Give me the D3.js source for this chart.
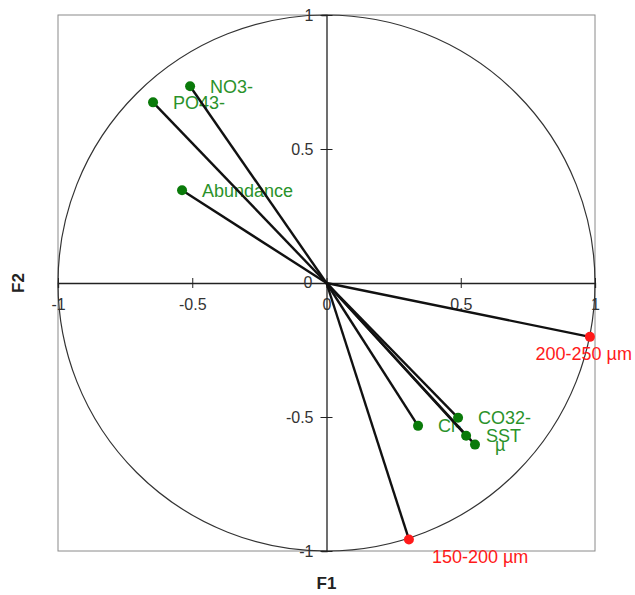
<!DOCTYPE html>
<html><head><meta charset="utf-8">
<script src="https://cdn.jsdelivr.net/npm/d3@7"></script>
<style>body{margin:0;background:#fff}svg{display:block}text{font-family:"Liberation Sans",Arial,sans-serif}</style>
</head><body><svg id="c" width="635" height="595"></svg>
<script>
const variables = ["NO3-","PO43-","Abundance","Cl-","CO32-","SST","µ"];
const varF1 = [-0.508,-0.646,-0.538,0.341,0.490,0.520,0.553];
const varF2 = [0.734,0.674,0.346,-0.533,-0.503,-0.570,-0.603];
const sizeClasses = ["200-250 µm","150-200 µm"];
const sizeF1 = [0.981,0.307];
const sizeF2 = [-0.201,-0.957];
const tickValues = [-1,-0.5,0,0.5,1];
const tickLabels = ["-1","-0.5","0","0.5","1"];

const W=635,H=595;
const svg=d3.select("#c");
const x=d3.scaleLinear().domain([-1,1]).range([58,595]);
const y=d3.scaleLinear().domain([-1,1]).range([551,15]);
const green="#0a7a0a", red="#ff1a1a";

// frame
svg.append("rect").attr("x",x(-1)).attr("y",y(1)).attr("width",x(1)-x(-1)).attr("height",y(-1)-y(1))
  .attr("fill","none").attr("stroke","#8a8a8a").attr("stroke-width",1);
// unit circle
svg.append("ellipse").attr("cx",x(0)).attr("cy",y(0)).attr("rx",x(1)-x(0)).attr("ry",y(-1)-y(0))
  .attr("fill","none").attr("stroke","#333").attr("stroke-width",1.2);

const fmt=d=>tickLabels[tickValues.indexOf(d)];
// x axis
const gx=svg.append("g").attr("transform",`translate(0,${y(0)})`)
  .call(d3.axisBottom(x).tickValues(tickValues).tickFormat(fmt).tickSizeOuter(0).tickSize(5));
gx.select(".domain").attr("stroke","#222").attr("stroke-width",1.3);
gx.selectAll(".tick line").attr("y1",-5).attr("y2",5).attr("stroke","#222");
gx.selectAll(".tick text").attr("y",16).attr("font-size",16).attr("fill","#333").attr("font-family","Liberation Sans, Arial");
// y axis
const gy=svg.append("g").attr("transform",`translate(${x(0)},0)`)
  .call(d3.axisLeft(y).tickValues(tickValues).tickFormat(fmt).tickSizeOuter(0).tickSize(5));
gy.select(".domain").attr("stroke","#222").attr("stroke-width",1.3);
gy.selectAll(".tick line").attr("x1",-6).attr("x2",6).attr("stroke","#222");
gy.selectAll(".tick text").attr("x",-13).attr("font-size",16).attr("fill","#333").attr("font-family","Liberation Sans, Arial");
gy.selectAll(".tick").filter(d=>d===0).select("text").attr("x",-14).attr("dy","0.3em");

// axis titles
svg.append("text").attr("x",x(0)).attr("y",589).attr("text-anchor","middle")
  .attr("font-weight","bold").attr("font-size",17).attr("fill","#222").text("F1");
svg.append("text").attr("transform",`translate(24,${y(0)}) rotate(-90)`).attr("text-anchor","middle")
  .attr("font-weight","bold").attr("font-size",17).attr("fill","#222").text("F2");

const vars=variables.map((n,i)=>({n,f1:varF1[i],f2:varF2[i]}));
const sizes=sizeClasses.map((n,i)=>({n,f1:sizeF1[i],f2:sizeF2[i]}));
const all=vars.concat(sizes);

svg.append("g").selectAll("text").data(vars).join("text")
  .attr("x",d=>x(d.f1)+20).attr("y",d=>y(d.f2)).attr("dy","0.35em")
  .attr("font-size",18).attr("fill","#2a922a").text(d=>d.n);

const st=svg.append("g").selectAll("text").data(sizes).join("text")
  .attr("y",d=>y(d.f2)+17).attr("dy","0.35em")
  .attr("font-size",18).attr("fill",red).text(d=>d.n);
st.each(function(d){const w=this.getComputedTextLength();d3.select(this).attr("x",Math.min(x(d.f1)+23,W-w-3));});

svg.append("g").selectAll("line").data(all).join("line")
  .attr("x1",x(0)).attr("y1",y(0)).attr("x2",d=>x(d.f1)).attr("y2",d=>y(d.f2))
  .attr("stroke","#111").attr("stroke-width",2.4);

svg.append("g").selectAll("circle").data(vars).join("circle")
  .attr("cx",d=>x(d.f1)).attr("cy",d=>y(d.f2)).attr("r",5).attr("fill",green);
svg.append("g").selectAll("circle").data(sizes).join("circle")
  .attr("cx",d=>x(d.f1)).attr("cy",d=>y(d.f2)).attr("r",5).attr("fill",red);
</script></body></html>
